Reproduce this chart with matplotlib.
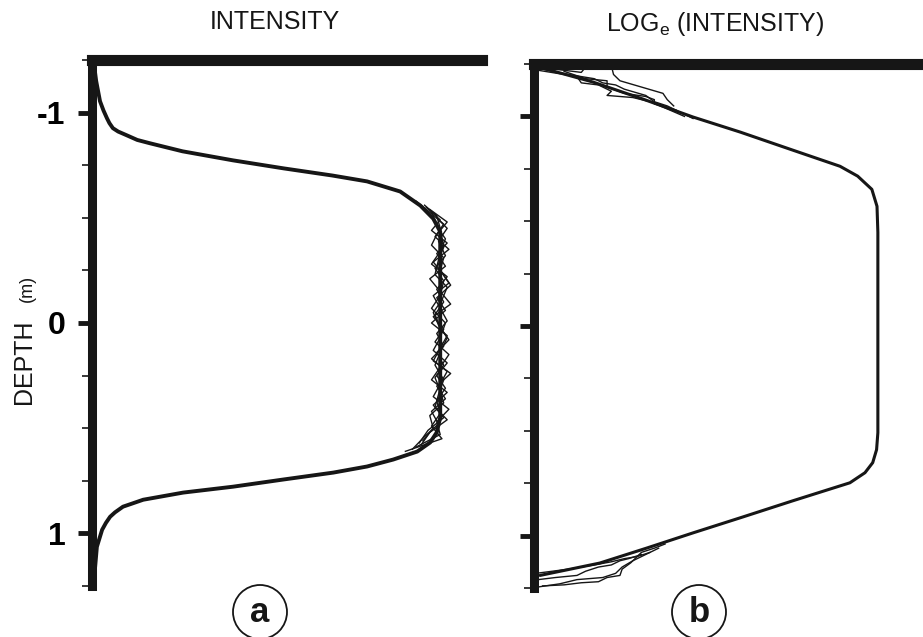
import matplotlib
matplotlib.use("Agg")
import matplotlib.pyplot as plt
from matplotlib.patches import Circle

plt.rcParams['axes.unicode_minus'] = False
plt.rcParams['mathtext.default'] = 'regular'

SANS = ['Liberation Sans', 'DejaVu Sans']
INK = '#161616'

# (a) intensity profile, depth in m
depth_a = [-1.25, -1.15, -1.054, -1.01, -0.973, -0.95, -0.926, -0.91, -0.892, -0.87,
           -0.854, -0.816, -0.773, -0.735, -0.701, -0.673, -0.625, -0.558, -0.496,
           -0.434, -0.20, 0.0, 0.20, 0.45, 0.52, 0.568, 0.611, 0.649, 0.682, 0.711,
           0.744, 0.778, 0.806, 0.840, 0.86, 0.873, 0.90, 0.921, 0.95, 0.983, 1.064,
           1.159, 1.236]
intensity_a = [0.004, 0.012, 0.023, 0.033, 0.043, 0.05, 0.060, 0.075, 0.10, 0.13,
               0.167, 0.26, 0.405, 0.55, 0.69, 0.79, 0.885, 0.943, 0.98,
               1.0, 1.0, 1.0, 1.0, 1.0, 0.99, 0.971, 0.934, 0.865, 0.79, 0.693,
               0.549, 0.405, 0.262, 0.147, 0.112, 0.089, 0.066, 0.052, 0.04, 0.029, 0.014,
               0.009, 0.003]

# repeat runs scatter around the plateau
run_depth_1 = [-0.58, -0.52, -0.47, -0.41, -0.35, -0.29, -0.24, -0.18, -0.12, -0.06,
               0.0, 0.06, 0.12, 0.18, 0.24, 0.30, 0.36, 0.42, 0.48, 0.54, 0.60]
run_int_1 = [0.93, 0.975, 1.01, 0.985, 1.025, 0.98, 1.005, 1.03, 0.99, 1.015,
             0.975, 1.02, 1.0, 0.98, 1.03, 0.99, 1.015, 0.975, 0.995, 0.955, 0.92]
run_depth_2 = [-0.55, -0.49, -0.44, -0.38, -0.33, -0.27, -0.21, -0.15, -0.09, -0.03,
               0.03, 0.09, 0.15, 0.21, 0.27, 0.33, 0.39, 0.45, 0.51, 0.57]
run_int_2 = [0.96, 1.0, 0.975, 1.02, 0.99, 1.015, 0.97, 1.0, 1.03, 0.98,
             1.01, 0.985, 1.025, 1.0, 0.975, 1.02, 0.98, 1.01, 0.965, 0.94]
run_depth_3 = [-0.54, -0.48, -0.42, -0.37, -0.31, -0.25, -0.19, -0.13, -0.07, -0.01,
               0.05, 0.11, 0.17, 0.23, 0.29, 0.35, 0.41, 0.47, 0.53, 0.59]
run_int_3 = [0.97, 1.02, 0.99, 0.975, 1.01, 1.0, 1.025, 0.98, 1.0, 1.02,
             0.99, 1.01, 0.975, 1.02, 1.0, 0.98, 1.025, 0.99, 1.0, 0.93]
run_depth_4 = [-0.53, -0.46, -0.40, -0.34, -0.28, -0.22, -0.16, -0.10, -0.04, 0.02,
               0.08, 0.14, 0.20, 0.26, 0.32, 0.38, 0.44, 0.50, 0.56]
run_int_4 = [0.975, 0.99, 1.015, 1.0, 0.975, 1.02, 0.99, 1.01, 0.985, 1.0,
             1.025, 0.99, 1.01, 0.985, 1.0, 1.01, 0.97, 0.98, 0.95]
run_depth_5 = [-0.50, -0.45, -0.39, -0.32, -0.26, -0.20, -0.13, -0.07, 0.0, 0.07,
               0.13, 0.19, 0.25, 0.31, 0.37, 0.43, 0.49, 0.55, 0.61]
run_int_5 = [0.99, 1.02, 0.995, 1.015, 0.985, 1.01, 1.0, 0.975, 1.015, 1.0,
             0.98, 1.02, 0.99, 1.015, 0.99, 1.0, 0.975, 1.005, 0.9]
run_depth_6 = [-0.56, -0.51, -0.45, -0.36, -0.30, -0.23, -0.17, -0.11, -0.05, 0.01,
               0.07, 0.14, 0.20, 0.27, 0.34, 0.40, 0.46, 0.52, 0.58]
run_int_6 = [0.955, 0.99, 1.0, 1.01, 0.995, 0.985, 1.02, 1.005, 0.98, 0.995,
             1.02, 1.0, 0.985, 1.01, 0.995, 0.985, 1.02, 0.97, 0.945]

# (b) natural log of intensity
depth_b = [-1.236, -1.164, -1.083, -0.997, -0.925, -0.844, -0.762, -0.715,
           -0.652, -0.571, -0.447, 0.0, 0.509, 0.59, 0.652, 0.70, 0.748, 0.834,
           0.911, 0.987, 1.059, 1.131, 1.19]
log_b = [-7.9, -6.63, -5.47, -4.3, -3.2, -2.05, -0.88, -0.47,
         -0.14, -0.02, 0.0, 0.0, 0.0, -0.03, -0.12, -0.30, -0.65, -1.98,
         -3.14, -4.3, -5.37, -6.47, -7.86]

# scattered runs at the weak-signal ends
top_depth_1 = [-1.235, -1.22, -1.21, -1.235, -1.248, -1.242, -1.20, -1.17, -1.14, -1.11, -1.08, -1.05]
top_log_1 = [-7.9, -7.3, -6.9, -6.8, -6.45, -6.2, -6.15, -6.0, -5.5, -5.0, -4.9, -4.75]
top_depth_2 = [-1.225, -1.20, -1.18, -1.16, -1.15, -1.13, -1.10, -1.07, -1.05, -1.02, -0.99]
top_log_2 = [-7.8, -7.2, -6.6, -6.4, -6.1, -5.9, -5.4, -5.2, -4.9, -4.6, -4.3]
top_depth_3 = [-1.22, -1.19, -1.16, -1.15, -1.12, -1.10, -1.09, -1.07, -1.04, -1.0]
top_log_3 = [-7.9, -7.0, -6.9, -6.5, -6.2, -6.3, -5.7, -5.3, -4.95, -4.5]
top_depth_4 = [-1.215, -1.18, -1.17, -1.14, -1.11, -1.095, -1.08, -1.06, -1.03]
top_log_4 = [-7.3, -6.8, -6.3, -6.3, -5.9, -5.4, -5.2, -5.2, -4.7]

bot_depth_1 = [1.245, 1.23, 1.21, 1.20, 1.18, 1.15, 1.12, 1.09, 1.06]
bot_log_1 = [-7.9, -7.4, -7.0, -6.4, -6.1, -5.95, -5.7, -5.4, -5.1]
bot_depth_2 = [1.18, 1.16, 1.14, 1.125, 1.11, 1.10, 1.08, 1.06, 1.04]
bot_log_2 = [-7.95, -7.2, -6.6, -6.2, -5.9, -5.6, -5.5, -5.2, -4.95]
bot_depth_3 = [1.24, 1.235, 1.225, 1.22, 1.20, 1.19, 1.16, 1.13, 1.10, 1.08]
bot_log_3 = [-7.8, -7.3, -6.9, -6.5, -6.3, -6.0, -5.95, -5.75, -5.6, -5.3]
bot_depth_4 = [1.21, 1.20, 1.19, 1.17, 1.15, 1.14, 1.12, 1.11, 1.09]
bot_log_4 = [-7.9, -7.5, -7.0, -6.8, -6.5, -6.2, -6.0, -5.8, -5.5]

major_ticks = [-1, 0, 1]
minor_ticks = [-1.25, -0.75, -0.5, -0.25, 0.25, 0.5, 0.75, 1.25]

W, H = 923, 637
fig = plt.figure(figsize=(W / 100, H / 100), dpi=100)


def px_axes(left, top, right, bottom):
    return fig.add_axes([left / W, 1 - bottom / H, (right - left) / W, (bottom - top) / H])


def style(ax):
    ax.set_ylim(1.25, -1.25)
    for s in ('right', 'bottom'):
        ax.spines[s].set_visible(False)
    ax.spines['left'].set_linewidth(6.5)
    ax.spines['top'].set_linewidth(8)
    for s in ('left', 'top'):
        ax.spines[s].set_color(INK)
        ax.spines[s].set_capstyle('projecting')
    ax.set_xticks([])
    ax.set_yticks(major_ticks)
    ax.set_yticks(minor_ticks, minor=True)
    ax.tick_params(axis='y', which='major', direction='out', length=10, width=3.5, color=INK)
    ax.tick_params(axis='y', which='minor', direction='out', length=7, width=1.2, color=INK)


ax1 = px_axes(92, 60, 482, 586)
style(ax1)
ax1.set_xlim(0, 1.12)
for d, v in [(run_depth_1, run_int_1), (run_depth_2, run_int_2),
             (run_depth_3, run_int_3), (run_depth_4, run_int_4),
             (run_depth_5, run_int_5), (run_depth_6, run_int_6)]:
    ax1.plot(v, d, color=INK, lw=1.0)
ax1.plot(intensity_a, depth_a, color=INK, lw=2.8, solid_capstyle='round')
ax1.set_yticklabels(['-1', '0', '1'], fontsize=23, fontweight='bold', family=SANS)
ax1.tick_params(axis='y', which='major', pad=9)

ax2 = px_axes(534, 64, 923, 588)
style(ax2)
ax2.set_xlim(-8, 1.05)
ax2.set_yticklabels([])
for d, v in [(top_depth_1, top_log_1), (top_depth_2, top_log_2),
             (top_depth_3, top_log_3), (top_depth_4, top_log_4),
             (bot_depth_1, bot_log_1), (bot_depth_2, bot_log_2),
             (bot_depth_3, bot_log_3), (bot_depth_4, bot_log_4)]:
    ax2.plot(v, d, color=INK, lw=1.0)
ax2.plot(log_b, depth_b, color=INK, lw=2.2, solid_capstyle='round')

# titles and labels
fig.text(275 / W, 1 - 22 / H, 'INTENSITY', ha='center', va='center',
         fontsize=18, family=SANS, color=INK)
fig.text(715 / W, 1 - 24 / H, 'LOG$_{e}$ (INTENSITY)', ha='center', va='center',
         fontsize=18, family=SANS, color=INK)
fig.text(24 / W, 1 - 362 / H, 'DEPTH', ha='center', va='center', rotation=90,
         fontsize=18, family=SANS, color=INK)
fig.text(27 / W, 1 - 288 / H, '(m)', ha='center', va='center', rotation=90,
         fontsize=13, family=SANS, color=INK)

# panel markers
for x, label in [(260, 'a'), (699, 'b')]:
    fig.add_artist(Circle((x / 100, (H - 612) / 100), 0.27, transform=fig.dpi_scale_trans,
                          fill=False, lw=1.3, color=INK))
    fig.text(x / W, 1 - 612 / H, label, ha='center', va='center', fontsize=25,
             fontweight='bold', family=SANS, color=INK)

fig.savefig('out.png', dpi=100)
